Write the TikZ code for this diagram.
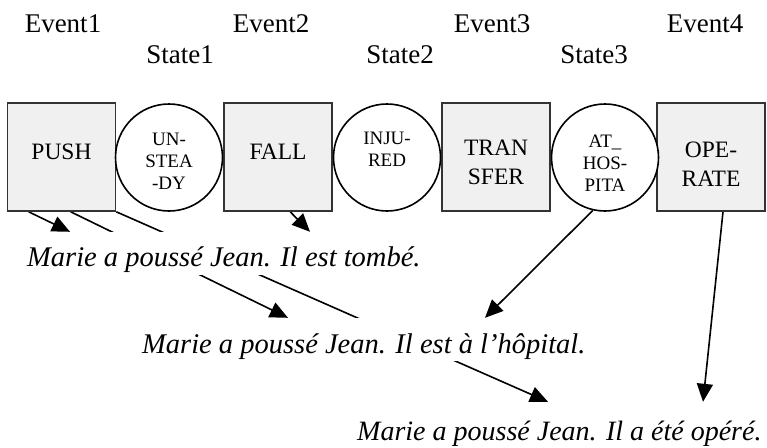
\documentclass[tikz,border=0pt]{standalone}
\usepackage{fontspec}
\setmainfont{Liberation Serif}
\usetikzlibrary{arrows.meta,backgrounds,calc}
\begin{document}
\begin{tikzpicture}[x=1pt,y=-1pt,
  evbox/.style={draw=black!80, line width=1.6pt, fill=black!6, minimum width=108pt, minimum height=108pt, inner sep=0pt, align=center, font=\fontsize{23.5}{29}\selectfont},
  stcirc/.style={draw=black, line width=1.6pt, fill=white, circle, minimum size=107pt, inner sep=0pt, align=center, font=\fontsize{19}{22}\selectfont},
  lbl/.style={font=\fontsize{27}{27}\selectfont, anchor=base, inner sep=0pt},
  sent/.style={font=\fontsize{28.5}{29}\selectfont\itshape, anchor=base west, fill=white, inner xsep=0pt, inner ysep=0pt},
  link/.style={line width=1.6pt, black},
  tip/.style={-{Triangle[length=18pt,width=16pt]}}
]
\useasboundingbox (0,0) rectangle (767,447);
% labels
\node[lbl] (e1) at (63,32) {Event1};
\node[lbl] (e2) at (271,32) {Event2};
\node[lbl] (e3) at (492,32) {Event3};
\node[lbl] (e4) at (705,32) {Event4};
\node[lbl] (st1) at (180,63) {State1};
\node[lbl] (st2) at (400,63) {State2};
\node[lbl] (st3) at (594,63) {State3};
% chain
\node[evbox] (push) at (61.5,157) {\raisebox{10pt}{PUSH}};
\node[evbox] (fall) at (278,157) {\raisebox{10pt}{FALL}};
\node[evbox] (transfer) at (496,157) {\rule{0pt}{27pt}TRAN\\SFER};
\node[evbox] (operate) at (711,157) {\rule{0pt}{30pt}OPE-\\RATE};
\node[stcirc] (c1) at (169,157.5) {\rule{0pt}{21pt}UN-\\STEA\\-DY};
\node[stcirc] (c2) at (387,157.5) {INJU-\\RED\rule[-16pt]{0pt}{1pt}};
\node[stcirc] (c3) at (605,157.5) {\rule{0pt}{24pt}AT\_\\HOS-\\PITA};
% sentences
\node[sent, text height=34pt, text depth=9pt] (s1) at (27,266) {Marie a poussé Jean. Il est tombé.};
\node[sent, text height=35pt, text depth=8pt] (s2) at (142,353) {Marie a poussé Jean. Il est à l’hôpital.};
\node[sent, font=\fontsize{28}{29}\selectfont\itshape, text height=38pt, text depth=6pt] (s3) at (357,440) {Marie a poussé Jean. Il a été opéré.};
% connectors
\begin{scope}[on background layer]
\fill[white] (0,0) rectangle (767,447);
\draw[link,tip] ($(push.south west)+(22,0)$) -- (70,0 |- s1.north);
\draw[link,tip] ($(push.south west)+(64,0)$) -- (288,0 |- s2.north);
\draw[link,tip] (push.south east) -- (548,0 |- s3.north);
\draw[link,tip] ($(fall.south west)+(67,0)$) -- (310,0 |- s1.north);
\draw[link,tip] (c3.257) -- (485,0 |- s2.north);
\draw[link,tip] ($(operate.south)+(12,0)$) -- (703,0 |- s3.north);
\end{scope}
\end{tikzpicture}
\end{document}
